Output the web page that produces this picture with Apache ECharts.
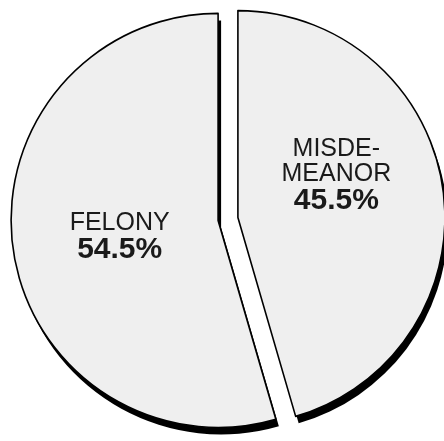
<!DOCTYPE html>
<html>
<head>
<meta charset="utf-8">
<script src="https://cdn.jsdelivr.net/npm/echarts@6/dist/echarts.min.js"></script>
<style>
html,body{margin:0;padding:0;background:#fff;}
#c{width:444px;height:441px;}
</style>
</head>
<body>
<div id="c"></div>
<script>
const categories = ["MISDE-\nMEANOR", "FELONY"];
const values = [45.5, 54.5];
// label nudges [dx, dy] relative to ECharts' inside position
const labelNudges = [[-7, -27], [7, 2]];

function nudgePadding(d) {
  const dx = d[0], dy = d[1];
  return [Math.max(0, 2 * dy), Math.max(0, -2 * dx), Math.max(0, -2 * dy), Math.max(0, 2 * dx)];
}

const chart = echarts.init(document.getElementById('c'), null, {renderer: 'canvas'});
const base = {
  type: 'pie',
  center: [228, 219],
  radius: 207,
  startAngle: 90,
  clockwise: true,
  selectedMode: 'multiple',
  selectedOffset: 10,
  avoidLabelOverlap: false,
  emphasis: {disabled: true},
  labelLine: {show: false}
};
chart.setOption({
  animation: false,
  backgroundColor: '#ffffff',
  series: [
    Object.assign({}, base, {
      z: 1,
      itemStyle: {
        color: '#efefef',
        borderWidth: 0,
        shadowColor: '#000',
        shadowBlur: 0,
        shadowOffsetX: 3,
        shadowOffsetY: 7
      },
      label: {show: false},
      data: categories.map((c, i) => ({name: c, value: values[i], selected: true}))
    }),
    Object.assign({}, base, {
      z: 2,
      itemStyle: {
        color: 'rgba(0,0,0,0)',
        borderColor: '#000',
        borderWidth: 1.6
      },
      label: {
        show: true,
        position: 'inside',
        formatter: p => '{a|' + p.name.split('\n').join('}\n{a|') + '}\n{b|' + p.value.toFixed(1) + '%}',
        rich: {
          a: {fontFamily: 'Liberation Sans', fontSize: 25, lineHeight: 25, color: '#1a1a1a', align: 'center'},
          b: {fontFamily: 'Liberation Sans', fontSize: 30, fontWeight: 'bold', lineHeight: 28, color: '#1a1a1a', align: 'center'}
        }
      },
      data: categories.map((c, i) => ({
        name: c,
        value: values[i],
        selected: true,
        label: {padding: nudgePadding(labelNudges[i])}
      }))
    })
  ]
});
</script>
</body>
</html>
